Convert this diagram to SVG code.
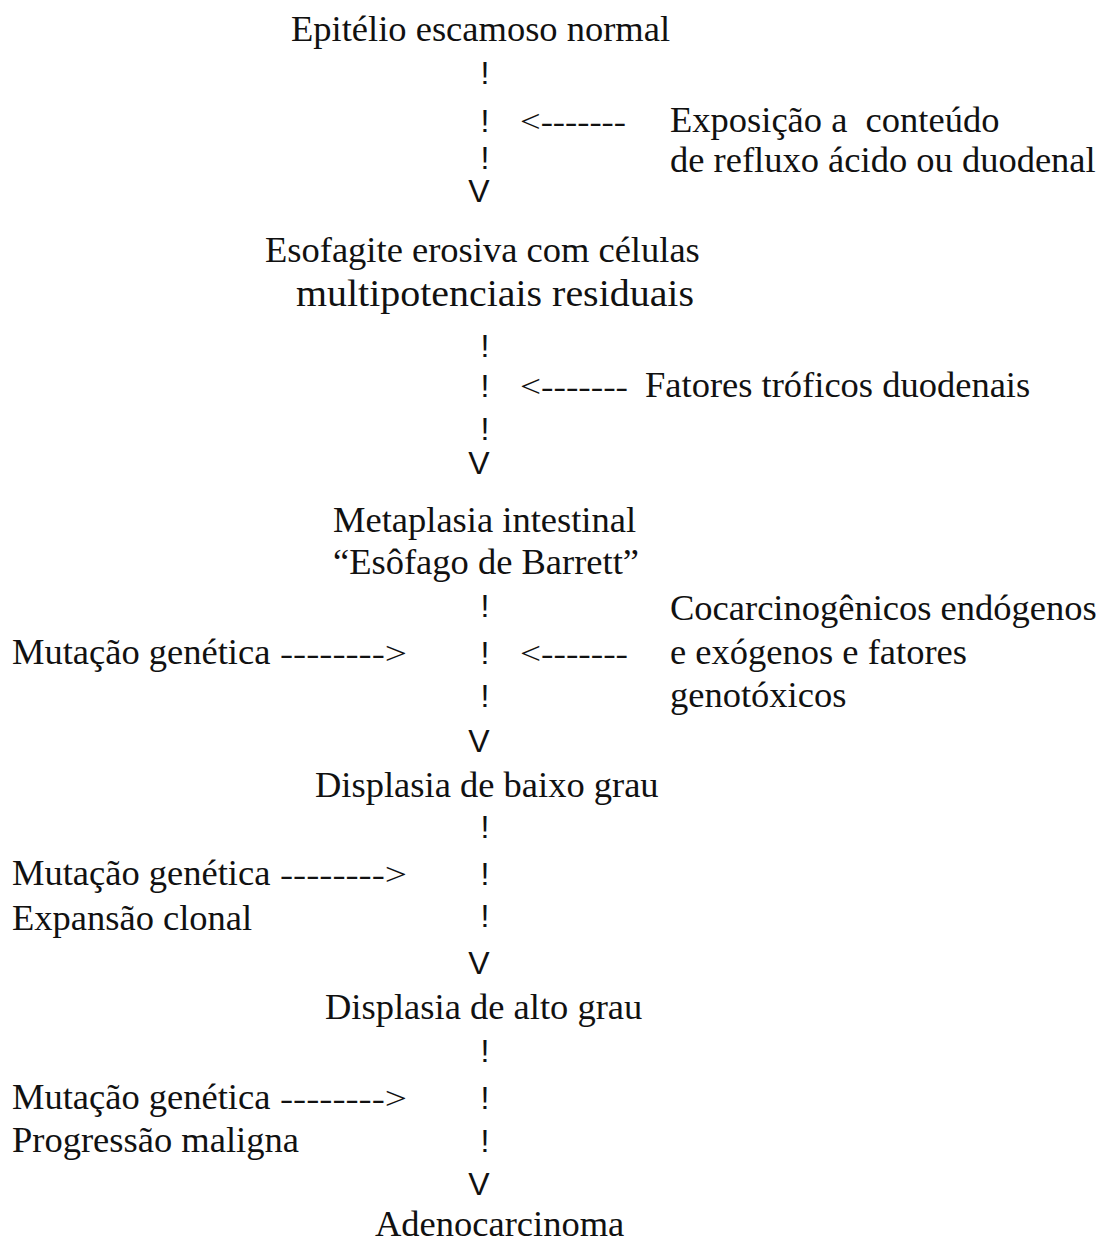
<svg xmlns="http://www.w3.org/2000/svg" width="1106" height="1242" viewBox="0 0 1106 1242">
<style>
text{font-family:"Liberation Serif","Times New Roman",serif;font-size:36.5px;fill:#111}
.c{font-family:"Liberation Sans",Arial,sans-serif;font-size:32px}
.a{font-size:32px}
</style>
<rect width="1106" height="1242" fill="#fff"/>
<g id="n1"><text x="291" y="41">Epitélio escamoso normal</text></g>
<g id="f1"><text x="670" y="132" xml:space="preserve">Exposição a  conteúdo</text><text x="670" y="172">de refluxo ácido ou duodenal</text></g>
<g id="n2"><text x="265" y="262">Esofagite erosiva com células</text><text x="296" y="306" textLength="398" lengthAdjust="spacingAndGlyphs" style="font-size:38px">multipotenciais residuais</text></g>
<g id="f2"><text x="645" y="397">Fatores tróficos duodenais</text></g>
<g id="n3"><text x="333" y="532">Metaplasia intestinal</text><text x="333" y="574">“Esôfago de Barrett”</text></g>
<g id="f3"><text x="670" y="620">Cocarcinogênicos endógenos</text><text x="670" y="664">e exógenos e fatores</text><text x="670" y="707">genotóxicos</text></g>
<g id="m1"><text x="12" y="664">Mutação genética</text></g>
<g id="n4"><text x="315" y="797">Displasia de baixo grau</text></g>
<g id="m2"><text x="12" y="885">Mutação genética</text><text x="12" y="930">Expansão clonal</text></g>
<g id="n5"><text x="325" y="1019">Displasia de alto grau</text></g>
<g id="m3"><text x="12" y="1109">Mutação genética</text><text x="12" y="1152">Progressão maligna</text></g>
<g id="n6"><text x="375" y="1236">Adenocarcinoma</text></g>
<g id="connectors">
<text class="c" x="485" y="84" text-anchor="middle">!</text>
<text class="c" x="485" y="132" text-anchor="middle">!</text>
<text class="c" x="485" y="169" text-anchor="middle">!</text>
<text class="c" x="479" y="202" text-anchor="middle">V</text>
<text class="a" x="520" y="132" textLength="106" lengthAdjust="spacingAndGlyphs">&lt;-------</text>
<text class="c" x="485" y="357" text-anchor="middle">!</text>
<text class="c" x="485" y="397" text-anchor="middle">!</text>
<text class="c" x="485" y="440" text-anchor="middle">!</text>
<text class="c" x="479" y="474" text-anchor="middle">V</text>
<text class="a" x="520" y="397" textLength="108" lengthAdjust="spacingAndGlyphs">&lt;-------</text>
<text class="c" x="485" y="617" text-anchor="middle">!</text>
<text class="c" x="485" y="664" text-anchor="middle">!</text>
<text class="c" x="485" y="707" text-anchor="middle">!</text>
<text class="c" x="479" y="752" text-anchor="middle">V</text>
<text class="a" x="520" y="664" textLength="108" lengthAdjust="spacingAndGlyphs">&lt;-------</text>
<text class="a" x="280" y="664" textLength="127" lengthAdjust="spacingAndGlyphs">--------&gt;</text>
<text class="c" x="485" y="838" text-anchor="middle">!</text>
<text class="c" x="485" y="885" text-anchor="middle">!</text>
<text class="c" x="485" y="927" text-anchor="middle">!</text>
<text class="c" x="479" y="974" text-anchor="middle">V</text>
<text class="a" x="280" y="885" textLength="127" lengthAdjust="spacingAndGlyphs">--------&gt;</text>
<text class="c" x="485" y="1062" text-anchor="middle">!</text>
<text class="c" x="485" y="1109" text-anchor="middle">!</text>
<text class="c" x="485" y="1152" text-anchor="middle">!</text>
<text class="c" x="479" y="1195" text-anchor="middle">V</text>
<text class="a" x="280" y="1109" textLength="127" lengthAdjust="spacingAndGlyphs">--------&gt;</text>
</g>
</svg>
